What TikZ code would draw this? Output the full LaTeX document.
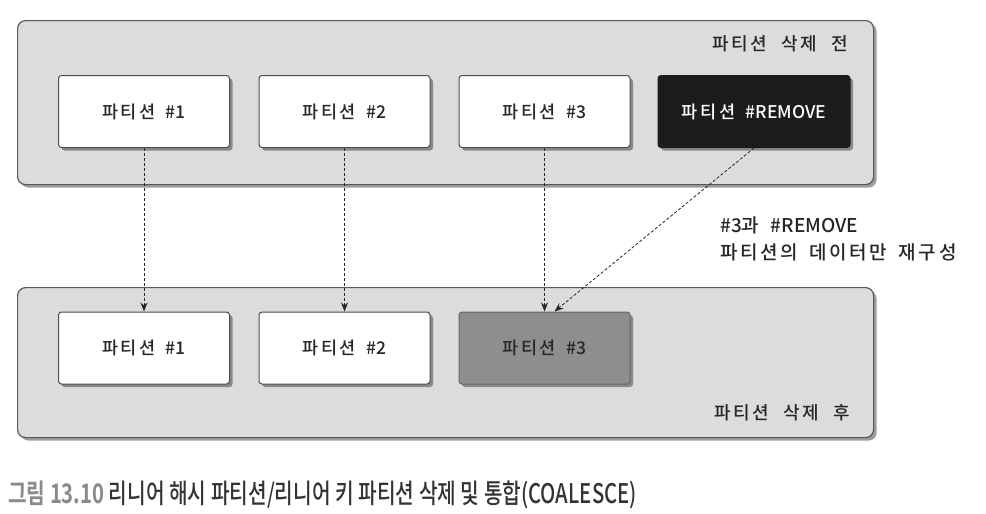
\documentclass[tikz,border=0pt]{standalone}
\usepackage{fontspec}
\newfontfamily\kr{Noto Sans CJK KR Medium}
\newfontfamily\krb{Noto Sans CJK KR Bold}
\newfontfamily\krs{Noto Sans CJK KR Medium}[LetterSpace=14]
\newcommand{\lat}[1]{{\kr #1}}
\usetikzlibrary{shadows,arrows.meta}
\definecolor{panelgray}{HTML}{DCDCDC}
\definecolor{boxgray}{HTML}{8E8E8E}
\definecolor{boxblack}{HTML}{1C1C1C}
\definecolor{capgray}{HTML}{8A8A8A}
\definecolor{captext}{HTML}{333333}
\tikzset{
  panel/.style={draw=black!65, line width=1.2pt, fill=panelgray, rounded corners=8pt,
    drop shadow={shadow xshift=3pt, shadow yshift=-3pt, fill=black!55, opacity=0.7}},
  pbox/.style={draw=black!70, line width=1pt, fill=white, rounded corners=3pt,
    minimum width=171pt, minimum height=72pt, inner sep=0pt,
    font=\krs\fontsize{17.5}{19}\selectfont, text=black!85,
    drop shadow={shadow xshift=3pt, shadow yshift=-3pt, fill=black!60, opacity=0.7}},
  darkbox/.style={pbox, fill=boxblack, draw=boxblack, text=white!92},
  graybox/.style={pbox, fill=boxgray, draw=black!60, text=black!85},
  flow/.style={densely dashed, line width=0.8pt, black!85, -{Stealth[length=9pt, width=7pt]}},
  lbl/.style={font=\krs\fontsize{18}{20}\selectfont, text=black!85, inner sep=0pt},
}
\begin{document}
\begin{tikzpicture}[x=1pt, y=-1pt]
\useasboundingbox (0,0) rectangle (986,514);
% panels
\node[panel, minimum width=856pt, minimum height=164pt, anchor=north west, inner sep=0pt] (top) at (17,20) {};
\node[panel, minimum width=856pt, minimum height=150pt, anchor=north west, inner sep=0pt] (bot) at (17,287) {};
\node[lbl, anchor=east] (toplbl) at (848,44) {파티션\hspace{0.8em}삭제\hspace{0.8em}전};
\node[lbl, anchor=east] (botlbl) at (850,413) {파티션\hspace{0.8em}삭제\hspace{0.8em}후};
% top boxes
\node[pbox] (t1) at (144,111.5) {파티션\hspace{0.6em}\lat{\#1}};
\node[pbox] (t2) at (344.5,111.5) {파티션\hspace{0.6em}\lat{\#2}};
\node[pbox] (t3) at (544.5,111.5) {파티션\hspace{0.6em}\lat{\#3}};
\node[darkbox, minimum width=192pt] (t4) at (754,111.5) {파티션\hspace{0.6em}\lat{\#REMOVE}};
% bottom boxes
\node[pbox] (b1) at (144,348) {파티션\hspace{0.6em}\lat{\#1}};
\node[pbox] (b2) at (344.5,348) {파티션\hspace{0.6em}\lat{\#2}};
\node[graybox] (b3) at (544.5,348) {파티션\hspace{0.6em}\lat{\#3}};
% arrows
\draw[flow] (t1.south) -- (b1.north);
\draw[flow] (t2.south) -- (b2.north);
\draw[flow] (t3.south) -- (b3.north);
\draw[flow] (t4.south) -- ([xshift=10pt]b3.north);
% annotation
\node[lbl, anchor=west, align=left, font=\krs\fontsize{19}{27}\selectfont] (note) at (720,239)
  {\lat{\#3}과\hspace{0.6em}\lat{\#REMOVE}\\파티션의\hspace{0.6em}데이터만\hspace{0.6em}재구성};
% caption
\node[anchor=west, inner sep=0pt, xscale=0.75, font=\kr\fontsize{27}{29}\selectfont] (cap) at (8,495)
  {\textcolor{capgray}{\krb 그림 13.10} \textcolor{captext}{리니어 해시 파티션/리니어 키 파티션 삭제 및 통합(COALESCE)}};
\end{tikzpicture}
\end{document}
